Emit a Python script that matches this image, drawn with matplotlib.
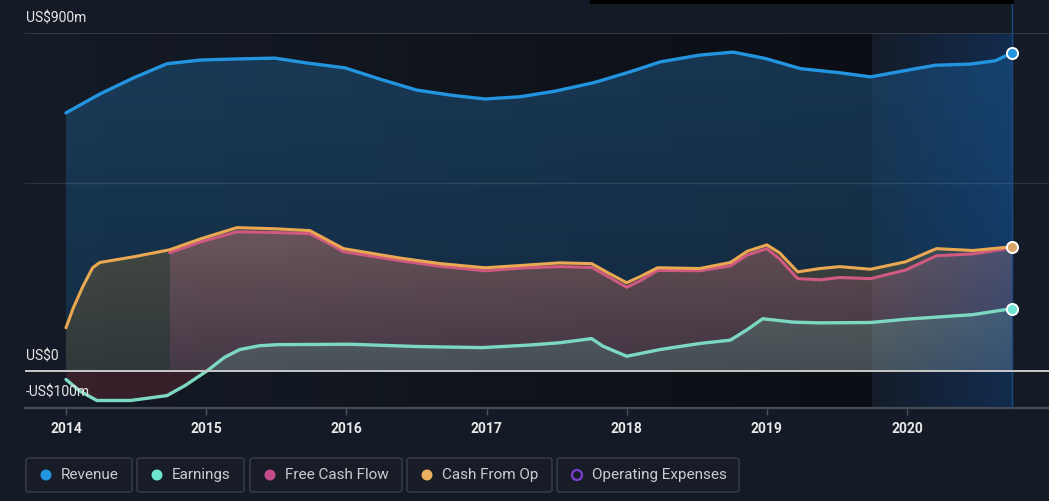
import numpy as np
import matplotlib
matplotlib.use('Agg')
import matplotlib.pyplot as plt
from matplotlib.colors import to_rgb
from matplotlib.patches import FancyBboxPatch, Rectangle, Circle

plt.rcParams['font.family'] = ['Roboto', 'DejaVu Sans']

W, H = 1049, 501
BG = '#151b26'

# values in US$m
rev_x = [2014.00, 2014.24, 2014.48, 2014.72, 2014.96, 2015.24, 2015.49, 2015.70,
         2015.99, 2016.24, 2016.50, 2016.75, 2016.99, 2017.24, 2017.49, 2017.77,
         2018.02, 2018.24, 2018.52, 2018.76, 2018.99, 2019.24, 2019.52, 2019.74,
         2019.99, 2020.20, 2020.45, 2020.63, 2020.75]
revenue = [687, 737, 780, 818, 828, 831, 833, 821,
           807, 777, 748, 734, 724, 730, 745, 768,
           796, 823, 841, 849, 832, 805, 794, 783,
           800, 814, 817, 826, 847]

cfo_x = [2014.00, 2014.05, 2014.12, 2014.19, 2014.24, 2014.48, 2014.74, 2014.96,
         2015.22, 2015.49, 2015.74, 2015.88, 2015.98, 2016.38, 2016.67, 2016.99,
         2017.24, 2017.52, 2017.75, 2017.86, 2018.00, 2018.10, 2018.22, 2018.52,
         2018.74, 2018.86, 2019.00, 2019.09, 2019.22, 2019.38, 2019.52, 2019.74,
         2019.99, 2020.21, 2020.47, 2020.75]
cash_from_op = [114, 165, 224, 274, 288, 303, 322, 351,
                381, 378, 373, 345, 325, 300, 285, 274,
                280, 287, 285, 262, 234, 251, 274, 272,
                288, 318, 335, 314, 263, 272, 277, 270,
                290, 325, 320, 330]

fcf_x = [2014.74, 2014.96, 2015.22, 2015.49, 2015.74, 2015.88, 2015.98, 2016.38,
         2016.67, 2016.99, 2017.24, 2017.52, 2017.75, 2017.86, 2018.00, 2018.10,
         2018.22, 2018.52, 2018.74, 2018.86, 2019.00, 2019.09, 2019.22, 2019.38,
         2019.52, 2019.74, 2019.99, 2020.21, 2020.47, 2020.75]
free_cash_flow = [314, 343, 370, 368, 365, 338, 317, 293,
                  278, 266, 273, 277, 275, 252, 222, 240,
                  267, 266, 279, 308, 325, 298, 245, 242,
                  248, 245, 268, 306, 311, 327]

earn_x = [2014.00, 2014.10, 2014.22, 2014.46, 2014.72, 2014.85, 2015.01, 2015.13,
          2015.24, 2015.38, 2015.51, 2016.03, 2016.50, 2016.97, 2017.31, 2017.52,
          2017.75, 2017.83, 2018.00, 2018.24, 2018.52, 2018.74, 2018.86, 2018.97,
          2019.19, 2019.38, 2019.74, 2020.00, 2020.47, 2020.75]
earnings = [-24, -55, -80, -80, -67, -40, 0, 35,
            56, 66, 69, 70, 64, 61, 68, 74,
            85, 65, 38, 56, 72, 81, 109, 138,
            129, 127, 128, 137, 149, 165]

years = [2014, 2015, 2016, 2017, 2018, 2019, 2020]
legend_names = ['Revenue', 'Earnings', 'Free Cash Flow', 'Cash From Op', 'Operating Expenses']
legend_box_x = [26, 137, 250, 407, 557]
legend_box_r = [132, 244, 402, 552, 739]

C_REV = '#2394df'
C_EARN = '#7dd8c2'
C_FCF = '#d0597f'
C_CFO = '#eaa853'


def grad_fill(ax, x, y, c_top, c_bot, zorder):
    x = np.asarray(x, float)
    y = np.asarray(y, float)
    poly = ax.fill_between(x, 0, y, color='none', lw=0)
    top = max(y.max(), 1)
    t = np.linspace(1, 0, 256)[:, None]
    a, b = np.array(to_rgb(c_top)), np.array(to_rgb(c_bot))
    img = (t[..., None] * a + (1 - t[..., None]) * b) * np.ones((1, 2, 1))
    im = ax.imshow(img, extent=[x.min(), x.max(), 0, top], aspect='auto',
                   origin='upper', zorder=zorder, interpolation='bilinear')
    im.set_clip_path(poly.get_paths()[0], transform=ax.transData)


def h_overlay(ax, x0, x1, color, a0, a1, zorder):
    rgba = np.zeros((2, 256, 4))
    rgba[..., :3] = to_rgb(color)
    rgba[..., 3] = np.linspace(a0, a1, 256)[None, :]
    ax.imshow(rgba, extent=[x0, x1, -100, 900], aspect='auto',
              zorder=zorder, interpolation='bilinear')


fig = plt.figure(figsize=(W / 100, H / 100), dpi=100, facecolor=BG)
ax = fig.add_axes([25 / W, 1 - 408 / H, 1 - 25 / W, 375 / H])
ax.set_facecolor('none')

# past period darkening (background)
h_overlay(ax, 2014.0, 2019.75, 'black', 0.0, 0.38, 0.5)

# area fills
grad_fill(ax, rev_x, revenue, '#1a3b58', '#142d44', 1)
grad_fill(ax, cfo_x, cash_from_op, '#444b45', '#31383b', 1.2)
grad_fill(ax, fcf_x, free_cash_flow, '#6d575d', '#463a47', 1.4)
grad_fill(ax, earn_x, np.maximum(earnings, 0), '#5b6465', '#4a545b', 1.6)
ex = np.array(earn_x)
ey = np.array(earnings, float)
ax.fill_between(ex, ey, 0, where=ey < 0, interpolate=True,
                color='#37202a', lw=0, zorder=1.6)

# slight darkening of fills, last-year highlight
h_overlay(ax, 2014.0, 2019.75, 'black', 0.0, 0.1, 2)
h_overlay(ax, 2019.75, 2020.75, '#0b4fa5', 0.03, 0.32, 2)

# grid / axis lines
ax.axhline(900, color='#3b3f48', lw=1.2, zorder=3)
ax.axhline(500, color='#ffffff', alpha=0.1, lw=1, zorder=3)
ax.axhline(0, color='#c9c9c9', lw=1.4, zorder=6)
ax.axhline(-100, color='#474c55', lw=1.6, zorder=3, clip_on=False)
ax.axvline(2020.75, ymin=0, ymax=408 / 375, color='#1b4a85', lw=1,
           zorder=3, clip_on=False)

# lines
kw = dict(solid_joinstyle='round', solid_capstyle='round')
ax.plot(rev_x, revenue, color=C_REV, lw=2.4, zorder=5, **kw)
ax.plot(fcf_x, free_cash_flow, color=C_FCF, lw=2.2, zorder=5, **kw)
ax.plot(cfo_x, cash_from_op, color=C_CFO, lw=2.2, zorder=5.1, **kw)
ax.plot(earn_x, earnings, color=C_EARN, lw=2.4, zorder=5.2, **kw)

for xs, ys, c in [(rev_x, revenue, C_REV), (cfo_x, cash_from_op, '#d9a468'),
                  (earn_x, earnings, '#6ee6d2')]:
    ax.plot(xs[-1], ys[-1], 'o', ms=8, mfc=c, mec='white', mew=1.4, zorder=8,
            clip_on=False)

ax.set_xlim(2014 - 41 / 140.17, 2014 + 983 / 140.17)
ax.set_ylim(-100, 900)
for s in ax.spines.values():
    s.set_visible(False)
ax.set_yticks([])
ax.set_xticks(years)
ax.set_xticklabels([str(y) for y in years])
ax.tick_params(axis='x', length=5, width=1, color='#4a4f57', pad=5,
               labelsize=10, labelcolor='#e8e8e8')
for t in ax.get_xticklabels():
    t.set_fontweight('semibold')

# y labels
for txt, yp in [('US$900m', 19), ('US$0', 356), ('-US$100m', 393)]:
    fig.text(26 / W, 1 - yp / H, txt, color='#e6e6e6', fontsize=10,
             va='center', ha='left', zorder=9)

# tooltip remnant bar at top
fig.patches.append(Rectangle((590 / W, 1 - 3 / H), 423 / W, 3 / H,
                             transform=fig.transFigure, color='black'))

# legend
dot_colors = [C_REV, '#6ee6d2', '#c24c8a', '#e9b05f', None]
for name, x0, x1, c in zip(legend_names, legend_box_x, legend_box_r, dot_colors):
    box = FancyBboxPatch((x0 / W, 1 - 492 / H), (x1 - x0) / W, 34 / H,
                         boxstyle='round,pad=0,rounding_size=0.004',
                         transform=fig.transFigure, fc='#171c27',
                         ec='#3a3f47', lw=1)
    fig.patches.append(box)
    if c is None:
        fig.patches.append(Circle((x0 + 20, H - 475), 5, transform=None,
                                  fc='none', ec='#7b3fd0', lw=1.6))
    else:
        fig.patches.append(Circle((x0 + 20, H - 475), 5.5, transform=None,
                                  fc=c, ec='none'))
    fig.text((x0 + 35) / W, 1 - 475 / H, name, color='#c9ccd0',
             fontsize=11, va='center', ha='left')

fig.savefig('out.png', dpi=100, facecolor=BG)
